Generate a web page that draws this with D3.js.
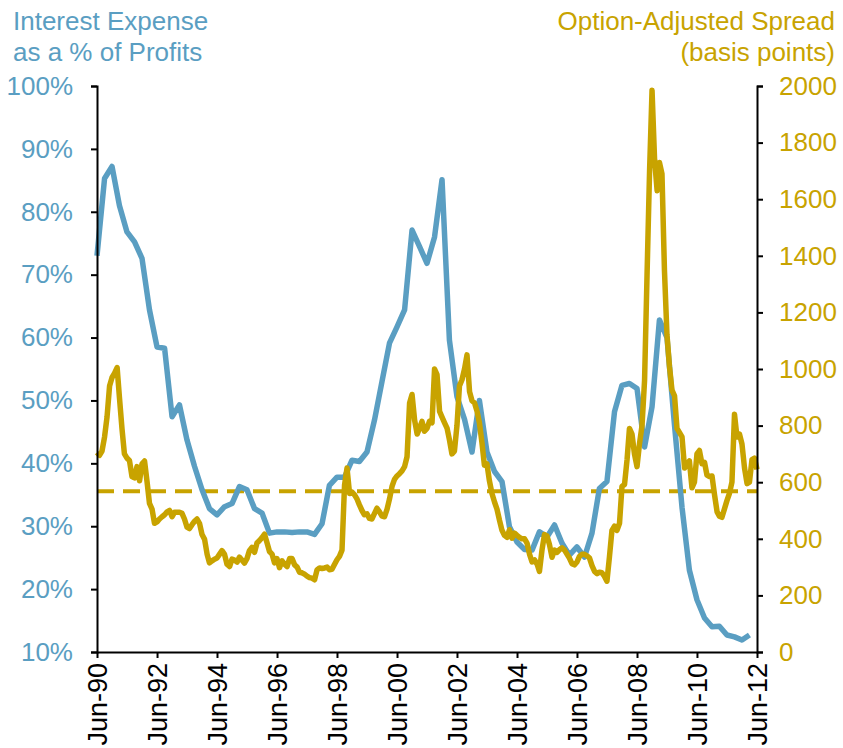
<!DOCTYPE html>
<html>
<head>
<meta charset="utf-8">
<script src="https://cdn.jsdelivr.net/npm/d3@7"></script>
<style>
  body { margin: 0; background: #fff; }
  svg { display: block; }
  text { font-family: "Liberation Sans", Arial, sans-serif; }
</style>
</head>
<body>
<svg id="chart" width="843" height="748"></svg>
<script>
// Interest expense as a share of profits, quarterly from Jun-1990
const interestStart = "1990-06";
const interestPct = [
  73.0, 85.3, 87.2, 81.0, 76.8, 75.2, 72.6, 64.4, 58.5, 58.3,
  47.4, 49.3, 43.7, 39.5, 35.8, 32.8, 31.8, 33.1, 33.6, 36.3,
  35.8, 32.8, 32.1, 28.9, 29.1, 29.1, 29.0, 29.1, 29.1, 28.7,
  30.4, 36.5, 37.8, 37.8, 40.5, 40.3, 41.8, 46.9, 53.0, 59.1,
  61.7, 64.4, 77.1, 74.5, 71.8, 76.0, 85.1, 59.6, 50.6, 47.0,
  41.8, 50.0, 41.8, 38.7, 37.1, 29.9, 27.5, 26.3, 26.2, 29.1,
  28.3, 30.2, 27.3, 25.4, 26.7, 25.1, 28.9, 36.0, 37.1, 48.2,
  52.4, 52.7, 51.9, 42.6, 49.0, 62.8, 60.0, 46.0, 33.0, 23.0,
  18.3, 15.4, 14.0, 14.1, 12.7, 12.4, 11.9, 12.7
];

// High-yield option-adjusted spread (basis points), monthly from Jun-1990
const spreadStart = "1990-06";
const spreadBp = [
  705, 695, 710, 760, 830, 940, 970, 985, 1005, 900,
  790, 700, 685, 677, 620, 615, 655, 605, 665, 675,
  600, 525, 505, 455, 460, 470, 478, 485, 495, 500,
  478, 494, 494, 494, 490, 470, 441, 436, 450, 462,
  470, 454, 415, 398, 345, 315, 322, 328, 332, 345,
  358, 345, 310, 302, 328, 325, 318, 335, 325, 314,
  330, 358, 370, 352, 385, 394, 404, 416, 385, 355,
  346, 315, 330, 298, 322, 310, 302, 330, 330, 308,
  300, 282, 280, 275, 268, 263, 261, 255, 290, 297,
  295, 297, 300, 291, 292, 309, 326, 338, 360, 590,
  650, 560, 565, 555, 540, 520, 500, 485, 488, 472,
  470, 490, 508, 495, 480, 478, 505, 540, 585, 610,
  622, 630, 640, 655, 690, 880, 910, 820, 770, 790,
  815, 780, 790, 815, 810, 1000, 980, 850, 830, 810,
  790, 750, 700, 710, 800, 940, 962, 1000, 1050, 920,
  888, 880, 850, 810, 740, 660, 665, 605, 560, 530,
  505, 465, 430, 412, 405, 432, 402, 420, 412, 405,
  400, 400, 385, 345, 318, 325, 310, 285, 360, 415,
  410, 380, 335, 360, 352, 362, 368, 360, 345, 332,
  312, 308, 318, 338, 345, 345, 340, 332, 305, 285,
  277, 282, 280, 268, 250, 335, 430, 445, 430, 455,
  585, 592, 680, 790, 770, 700, 655, 735, 800, 960,
  1330, 1700, 1985, 1740, 1630, 1730, 1690, 1350, 1120, 1010,
  925, 905, 790, 775, 760, 650, 665, 675, 580, 600,
  700, 712, 665, 670, 625, 620, 622, 555, 495, 480,
  476, 505, 535, 560, 600, 840, 760, 770, 735, 650,
  595, 600, 680, 685, 645
];

// Long-run average spread shown as the dashed reference line
const averageSpread = 568;

const xTickLabels = ["Jun-90", "Jun-92", "Jun-94", "Jun-96", "Jun-98", "Jun-00",
                     "Jun-02", "Jun-04", "Jun-06", "Jun-08", "Jun-10", "Jun-12"];
const leftTicks = [0.1, 0.2, 0.3, 0.4, 0.5, 0.6, 0.7, 0.8, 0.9, 1.0];
const rightTicks = [0, 200, 400, 600, 800, 1000, 1200, 1400, 1600, 1800, 2000];

const blueColor = "#5A9EC2";
const goldColor = "#C8A300";
const fontSize = 26;

const svg = d3.select("#chart");
const plot = { left: 97, right: 757, top: 86, bottom: 652 };

const parseMonth = d3.timeParse("%Y-%m");
const parseTick = d3.timeParse("%b-%y");
const tickDates = xTickLabels.map(parseTick);

const interestData = interestPct.map((v, i) => ({
  date: d3.timeMonth.offset(parseMonth(interestStart), 3 * i), value: v / 100
}));
const spreadData = spreadBp.map((v, i) => ({
  date: d3.timeMonth.offset(parseMonth(spreadStart), i), value: v
}));

const x = d3.scaleTime()
  .domain([tickDates[0], tickDates[tickDates.length - 1]])
  .range([plot.left, plot.right]);
const yLeft = d3.scaleLinear().domain([0.1, 1.0]).range([plot.bottom, plot.top]);
const yRight = d3.scaleLinear().domain([0, 2000]).range([plot.bottom, plot.top]);

// Average spread (dashed)
svg.append("line")
  .attr("x1", plot.left).attr("x2", plot.right)
  .attr("y1", yRight(averageSpread)).attr("y2", yRight(averageSpread))
  .attr("stroke", goldColor).attr("stroke-width", 4)
  .attr("stroke-dasharray", "17,9");

// Interest expense line
svg.append("path")
  .datum(interestData)
  .attr("fill", "none")
  .attr("stroke", blueColor)
  .attr("stroke-width", 5.5)
  .attr("stroke-linejoin", "round")
  .attr("d", d3.line().x(d => x(d.date)).y(d => yLeft(d.value)));

// Spread line
svg.append("path")
  .datum(spreadData)
  .attr("fill", "none")
  .attr("stroke", goldColor)
  .attr("stroke-width", 5.5)
  .attr("stroke-linejoin", "round")
  .attr("d", d3.line().x(d => x(d.date)).y(d => yRight(d.value)));

function styleAxis(g, color) {
  g.select(".domain").attr("stroke", "#000").attr("stroke-width", 2);
  g.selectAll(".tick line").attr("stroke", "#000").attr("stroke-width", 2);
  g.selectAll(".tick text").attr("fill", color)
    .style("font-size", fontSize + "px")
    .style("font-family", "'Liberation Sans', Arial, sans-serif");
}

// Left axis
const leftAxis = svg.append("g")
  .attr("transform", `translate(${plot.left},0)`)
  .call(d3.axisLeft(yLeft).tickValues(leftTicks)
    .tickFormat(d3.format(".0%")).tickSize(6).tickPadding(18));
styleAxis(leftAxis, blueColor);

// Right axis
const rightAxis = svg.append("g")
  .attr("transform", `translate(${plot.right},0)`)
  .call(d3.axisRight(yRight).tickValues(rightTicks)
    .tickFormat(d3.format("d")).tickSize(6).tickPadding(16));
styleAxis(rightAxis, goldColor);

// Bottom axis with vertical labels
const bottomAxis = svg.append("g")
  .attr("transform", `translate(0,${plot.bottom})`)
  .call(d3.axisBottom(x).tickValues(tickDates)
    .tickFormat((d, i) => xTickLabels[i]).tickSize(6).tickSizeOuter(0));
styleAxis(bottomAxis, "#000");
bottomAxis.selectAll(".tick text")
  .style("font-size", "27px")
  .attr("transform", "rotate(-90)")
  .attr("x", -11).attr("y", 0).attr("dy", "0.36em")
  .style("text-anchor", "end");

// Axis titles
const leftTitle = svg.append("text")
  .attr("x", 13).attr("fill", blueColor).style("font-size", fontSize + "px");
leftTitle.append("tspan").attr("x", 13).attr("y", 30).text("Interest Expense");
leftTitle.append("tspan").attr("x", 13).attr("y", 61).text("as a % of Profits");

const rightTitle = svg.append("text")
  .attr("fill", goldColor).style("font-size", fontSize + "px")
  .style("text-anchor", "end");
rightTitle.append("tspan").attr("x", 835).attr("y", 30).text("Option-Adjusted Spread");
rightTitle.append("tspan").attr("x", 835).attr("y", 61).text("(basis points)");
</script>
</body>
</html>
